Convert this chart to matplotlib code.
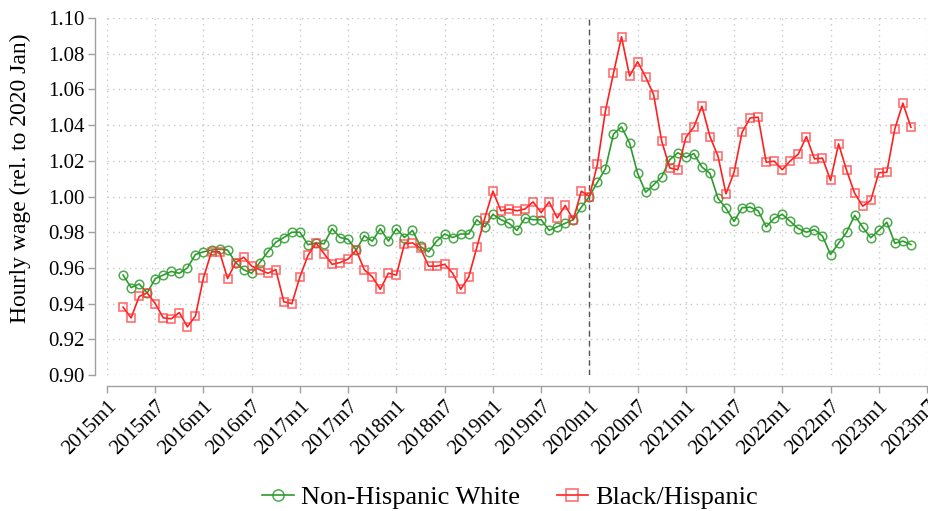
import matplotlib
matplotlib.use("Agg")
import matplotlib.pyplot as plt
import numpy as np

# Monthly series, 2015m3 .. 2023m5, relative to 2020m1
start_year, start_month = 2015, 3

white = [
    0.956, 0.949, 0.951, 0.946, 0.954, 0.956, 0.958, 0.957, 0.960, 0.9675,
    0.969, 0.970, 0.9705, 0.970, 0.963, 0.959, 0.957, 0.963, 0.969, 0.9744, 0.977, 0.980,
    0.980, 0.973, 0.974, 0.9735, 0.982, 0.977, 0.976, 0.970, 0.978, 0.975, 0.982, 0.975,
    0.982, 0.977, 0.981, 0.972, 0.969, 0.975, 0.979, 0.977, 0.979, 0.979, 0.987, 0.983,
    0.990, 0.987, 0.985, 0.981, 0.988, 0.987, 0.987, 0.981, 0.983, 0.985, 0.987, 0.994,
    1.000, 1.008, 1.0155, 1.035, 1.039, 1.030, 1.013, 1.0024, 1.0066, 1.011, 1.0206, 1.0245,
    1.022, 1.024, 1.0165, 1.013, 0.999, 0.9934, 0.986, 0.9937, 0.994, 0.992, 0.983, 0.9878,
    0.990, 0.986, 0.982, 0.980, 0.9815, 0.9778, 0.9675, 0.9738, 0.980, 0.9894, 0.9828, 0.9769,
    0.981, 0.9856, 0.9738, 0.975, 0.9731,
]

black_hispanic = [
    0.938, 0.932, 0.944, 0.946, 0.940, 0.932, 0.9315, 0.935, 0.927, 0.933,
    0.9545, 0.969, 0.969, 0.954, 0.963, 0.966, 0.961, 0.959, 0.957, 0.959, 0.941, 0.940,
    0.955, 0.967, 0.974, 0.968, 0.962, 0.963, 0.965, 0.970, 0.959, 0.955, 0.948, 0.957,
    0.956, 0.9735, 0.974, 0.971, 0.961, 0.961, 0.962, 0.957, 0.948, 0.955, 0.9715, 0.988,
    1.003, 0.992, 0.993, 0.992, 0.993, 0.997, 0.991, 0.997, 0.988, 0.995, 0.987, 1.003,
    1.000, 1.018, 1.048, 1.069, 1.0895, 1.0675, 1.0755, 1.067, 1.057, 1.031, 1.016, 1.015,
    1.033, 1.039, 1.0506, 1.0336, 1.0226, 1.0015, 1.0136, 1.036, 1.044, 1.0444, 1.0192, 1.0198,
    1.015, 1.020, 1.0238, 1.0336, 1.0211, 1.0215, 1.009, 1.0295, 1.0146, 1.0018, 0.9946, 0.9978,
    1.0133, 1.0136, 1.0379, 1.0523, 1.0388,
]

tick_labels = ["2015m1", "2015m7", "2016m1", "2016m7", "2017m1", "2017m7",
               "2018m1", "2018m7", "2019m1", "2019m7", "2020m1", "2020m7",
               "2021m1", "2021m7", "2022m1", "2022m7", "2023m1", "2023m7"]
y_ticks = [0.90, 0.92, 0.94, 0.96, 0.98, 1.00, 1.02, 1.04, 1.06, 1.08, 1.10]
event_label = "2020m1"


def month_index(label):
    y, m = label.split("m")
    return (int(y) - 2015) * 12 + int(m) - 1


x0 = (start_year - 2015) * 12 + start_month - 1
x = np.arange(x0, x0 + len(white))
tick_pos = [month_index(t) for t in tick_labels]

plt.rcParams["font.family"] = ["Liberation Serif", "DejaVu Serif"]

fig = plt.figure(figsize=(9.29, 5.11), dpi=100)
ax = fig.add_axes([107 / 929, 136 / 511, 820 / 929, 357 / 511])

green = "#2e9b2e"
red = "#ff2020"

ax.plot(x, white, color=green, lw=1.2, marker="o", ms=6.2,
        mfc="none", mec=(0.18, 0.61, 0.18, 0.85), mew=1.1,
        label="Non-Hispanic White", zorder=3)
ax.plot(x, black_hispanic, color=red, lw=1.2, marker="s", ms=6.2,
        mfc="none", mec=(1.0, 0.2, 0.2, 0.7), mew=1.2,
        label="Black/Hispanic", zorder=4)

ax.axvline(month_index(event_label), color="#555555", lw=1.0,
           linestyle=(0, (4, 3)), zorder=2)

ax.set_xlim(tick_pos[0], tick_pos[-1])
ax.set_ylim(0.90, 1.10)
ax.set_xticks(tick_pos)
ax.set_xticklabels(tick_labels)
ax.set_yticks(y_ticks)
ax.set_yticklabels([f"{v:.2f}" for v in y_ticks])

ax.grid(True, color="#c8c8c8", linestyle=(0, (1, 3)), lw=1.0)
ax.set_axisbelow(True)

for side in ("top", "right"):
    ax.spines[side].set_visible(False)
ax.spines["left"].set_position(("outward", 8.6))
ax.spines["bottom"].set_position(("outward", 8))
for side in ("left", "bottom"):
    ax.spines[side].set_color("#a0a0a0")
    ax.spines[side].set_linewidth(1.0)
ax.tick_params(axis="both", colors="#a0a0a0", length=5, width=1.0,
               labelcolor="black", labelsize=15, pad=2.5)
plt.setp(ax.get_xticklabels(), rotation=45, ha="right",
         rotation_mode="anchor")

ax.set_ylabel("Hourly wage (rel. to 2020 Jan)", fontsize=17, labelpad=12)
ax.yaxis.label.set_y(0.55)

fig.legend(loc="center", bbox_to_anchor=(510 / 929, 14 / 511), ncol=2,
           frameon=False, fontsize=19, handlelength=1.2, columnspacing=1.4,
           handletextpad=0.25, markerscale=1.3)

fig.savefig("out.png", dpi=100)
